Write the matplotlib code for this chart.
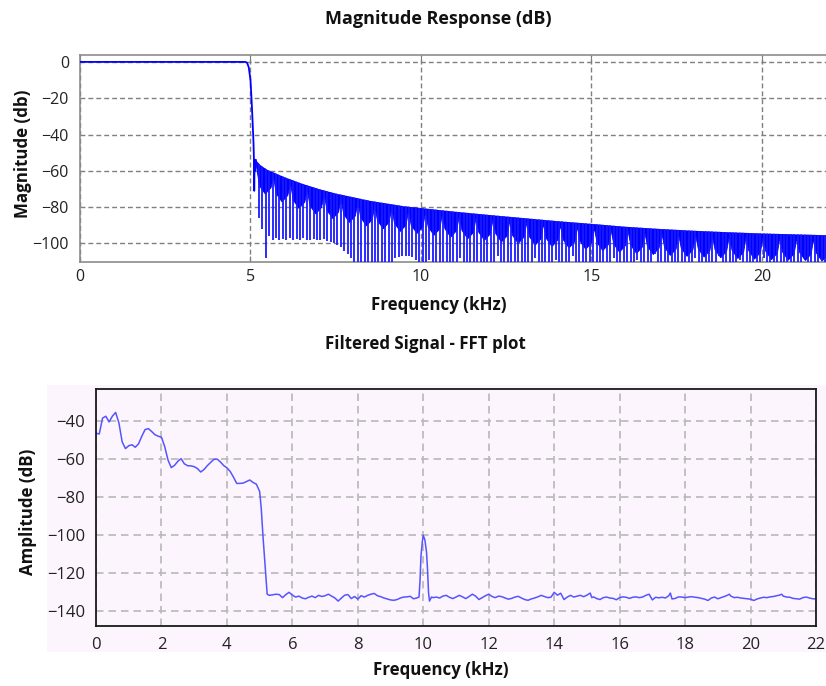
import numpy as np
import matplotlib
matplotlib.use("Agg")
import matplotlib.pyplot as plt
from matplotlib.patches import Polygon, Rectangle

plt.rcParams['font.family'] = ['Open Sans', 'DejaVu Sans']

# ---- top chart: filter magnitude response ----
pass_f = [0, 4.85, 4.9, 4.95, 5.0, 5.03, 5.06, 5.09, 5.1, 5.11, 5.12, 5.13, 5.15]
pass_db = [0, 0, -0.5, -3, -10, -20, -32, -45, -53, -71, -55, -60, -54]

# upper envelope of the stopband ripple
env_f = [5.15, 5.2, 5.3, 5.5, 6.0, 6.5, 7.0, 7.5, 8.0, 8.5, 9.0, 9.5, 10.0,
         11.0, 12.0, 13.0, 14.0, 15.0, 16.0, 17.0, 18.0, 19.0, 20.0, 21.0, 22.0]
env_db = [-53, -55, -57, -59.5, -63.5, -67, -70, -72.5, -74.5, -76.5, -78, -79.5, -80.5,
          -82.5, -84.3, -86, -87.7, -89.2, -90.8, -92, -93, -93.8, -94.5, -95, -95.5]

# lower edge of the solid ripple "cups": shoulder, centre, shoulder, gap
cup_f = [5.15,
         5.25, 5.42, 5.59, 5.66, 5.74, 5.91, 6.08, 6.16, 6.24, 6.41, 6.58, 6.65,
         6.73, 6.90, 7.07, 7.15, 7.23, 7.40, 7.57, 7.64, 7.72, 7.89, 8.06, 8.14,
         8.22, 8.39, 8.56, 8.63, 8.71, 8.88, 9.05, 9.13, 9.21, 9.38, 9.55, 9.62,
         9.70, 9.87, 10.04, 10.12, 10.20, 10.37, 10.54, 10.61, 10.69, 10.86, 11.03, 11.11,
         11.19, 11.36, 11.53, 11.60, 11.68, 11.85, 12.02, 12.10, 12.18, 12.35, 12.52, 12.59,
         12.67, 12.84, 13.01, 13.09, 13.17, 13.34, 13.51, 13.58, 13.66, 13.83, 14.00, 14.08,
         14.16, 14.33, 14.50, 14.57, 14.65, 14.82, 14.99, 15.07, 15.15, 15.32, 15.49, 15.56,
         15.64, 15.81, 15.98, 16.06, 16.14, 16.31, 16.48, 16.55, 16.63, 16.80, 16.97, 17.05,
         17.13, 17.30, 17.47, 17.54, 17.62, 17.79, 17.96, 18.04, 18.12, 18.29, 18.46, 18.53,
         18.61, 18.78, 18.95, 19.03, 19.11, 19.28, 19.45, 19.52, 19.60, 19.77, 19.94, 20.02,
         20.10, 20.27, 20.44, 20.51, 20.59, 20.76, 20.93, 21.01, 21.09, 21.26, 21.43, 21.50,
         21.58, 21.75, 21.92, 22.0]
cup_db = [-56,
          -68, -72.5, -69, -62.7, -72.3, -76.8, -73.3, -66.6, -75.9, -80.4, -76.9, -70,
          -78.9, -83.4, -79.9, -72.8, -81.5, -86, -82.5, -75, -83.6, -88.1, -84.6, -77,
          -85.5, -90, -86.5, -79, -87.1, -91.6, -88.1, -80.4, -88.6, -93.1, -89.6, -81.8,
          -89.7, -94.2, -90.7, -82.8, -90.7, -95.2, -91.7, -83.7, -91.7, -96.2, -92.7, -84.7,
          -92.6, -97.1, -93.6, -85.6, -93.5, -98, -94.5, -86.5, -94.4, -98.9, -95.4, -87.3,
          -95.2, -99.7, -96.2, -88.2, -96.1, -100.6, -97.1, -89, -96.9, -101.4, -97.9, -89.8,
          -97.7, -102.2, -98.7, -90.6, -98.4, -102.9, -99.4, -91.3, -99.2, -103.7, -100.2, -92.1,
          -100, -104.5, -101, -92.9, -100.7, -105.2, -101.7, -93.5, -101.3, -105.8, -102.3, -94,
          -101.8, -106.3, -102.8, -94.5, -102.3, -106.8, -103.3, -95, -102.7, -107.2, -103.7, -95.4,
          -103.1, -107.6, -104.1, -95.8, -103.5, -108, -104.5, -96.2, -103.8, -108.3, -104.8, -96.5,
          -104.1, -108.6, -105.1, -96.8, -104.4, -108.9, -105.4, -97, -104.6, -109.1, -105.6, -97.3,
          -104.9, -109.4, -105.9, -97.5]

# deep nulls, one per bin from 5.25 kHz in 0.1 kHz steps
null_f = np.round(np.arange(5.25, 22.0, 0.1), 2)
null_db = [-86, -92, -108, -96, -98, -97, -98, -97.5,
           -98, -97, -98, -97.5, -98, -97, -98, -98, -97.5, -98,
           -98, -97.5, -98.5, -99, -100, -101, -102, -104, -106, -108,
           -112, -112, -112, -112, -112, -112, -112, -112, -112, -112,
           -112, -110, -108, -107.5, -107, -106.8, -107, -107.5, -109, -112,
           -112, -112, -109, -112, -112, -112, -110, -112, -112, -112,
           -112, -108, -112, -112, -112, -112, -111, -112, -112, -112,
           -112, -112, -107, -112, -112, -112, -112, -110, -112, -112,
           -112, -112, -112, -108, -112, -112, -112, -112, -112, -109,
           -112, -112, -112, -112, -107, -112, -112, -112, -112, -112,
           -110, -112, -112, -112, -112, -112, -108, -112, -112, -112,
           -112, -112, -112, -109, -112, -112, -112, -112, -106, -112,
           -112, -112, -112, -112, -112, -110, -112, -112, -112, -112,
           -108, -112, -112, -112, -112, -112, -112, -107, -112, -112,
           -112, -112, -112, -109, -112, -112, -112, -112, -112, -112,
           -108, -112, -112, -112, -112, -110, -112, -112, -112, -112,
           -112, -112, -108, -112, -112, -112, -112, -109, -112, -112]

# ---- bottom chart: FFT of the filtered signal ----
fft_f = [0.0, 0.1, 0.2, 0.3, 0.4, 0.5, 0.6, 0.7, 0.8, 0.9,
         1.0, 1.1, 1.2, 1.3, 1.4, 1.5, 1.6, 1.7, 1.8, 1.9,
         2.0, 2.1, 2.2, 2.3, 2.4, 2.5, 2.6, 2.7, 2.8, 2.9,
         3.0, 3.1, 3.2, 3.3, 3.4, 3.5, 3.6, 3.7, 3.8, 3.9,
         4.0, 4.1, 4.2, 4.3, 4.4, 4.5, 4.6, 4.7, 4.8, 4.9,
         5.0, 5.05, 5.1, 5.15, 5.2, 5.23, 5.3, 5.4, 5.5, 5.6, 5.7, 5.8, 5.9,
         6.0, 6.1, 6.2, 6.3, 6.4, 6.5, 6.6, 6.7, 6.8, 6.9,
         7.0, 7.1, 7.2, 7.3, 7.4, 7.5, 7.6, 7.7, 7.8, 7.9,
         8.0, 8.1, 8.2, 8.3, 8.4, 8.5, 8.6, 8.7, 8.8, 8.9,
         9.0, 9.1, 9.2, 9.3, 9.4, 9.5, 9.6, 9.7, 9.8, 9.87,
         9.9, 9.93, 9.97, 10.0, 10.05, 10.1, 10.13, 10.16, 10.19, 10.25,
         10.3, 10.4, 10.5, 10.6, 10.7, 10.8, 10.9,
         11.0, 11.1, 11.2, 11.3, 11.4, 11.5, 11.6, 11.7, 11.8, 11.9,
         12.0, 12.1, 12.2, 12.3, 12.4, 12.5, 12.6, 12.7, 12.8, 12.9,
         13.0, 13.1, 13.2, 13.3, 13.4, 13.5, 13.6, 13.7, 13.8, 13.9,
         14.0, 14.1, 14.2, 14.3, 14.4, 14.5, 14.6, 14.7, 14.8, 14.9,
         15.0, 15.1, 15.15, 15.2, 15.3, 15.4, 15.5, 15.6, 15.7, 15.8, 15.9,
         16.0, 16.1, 16.2, 16.3, 16.4, 16.5, 16.6, 16.7, 16.8, 16.9,
         17.0, 17.1, 17.2, 17.3, 17.4, 17.5, 17.55, 17.6, 17.7, 17.8, 17.9,
         18.0, 18.1, 18.2, 18.3, 18.4, 18.5, 18.6, 18.7, 18.8, 18.9,
         19.0, 19.1, 19.2, 19.3, 19.35, 19.4, 19.5, 19.6, 19.7, 19.8, 19.9,
         20.0, 20.1, 20.2, 20.3, 20.4, 20.5, 20.6, 20.7, 20.8, 20.9, 20.95,
         21.0, 21.1, 21.2, 21.3, 21.4, 21.5, 21.6, 21.7, 21.8, 21.9, 22.0]
fft_db = [-46.5, -46.8, -38.5, -37.5, -40.5, -37.5, -35.5, -41, -51, -54.5,
          -53, -52.5, -53.8, -52, -48, -44.5, -44, -45.5, -47.2, -48,
          -48.5, -53.5, -60.5, -64.5, -63.3, -61.2, -59.8, -62.5, -63.5, -63.6,
          -64, -65, -66.8, -65.5, -63.5, -61.8, -60.2, -60, -61.5, -63.4,
          -64.6, -66.5, -69.5, -72.8, -72.8, -72.6, -71.8, -71, -72.3, -73.2,
          -77, -86, -100, -112, -124, -131, -131.6, -131.3, -131, -131.2, -132.8, -131.2, -130,
          -131.5, -132.5, -132, -133, -133.4, -132.6, -132, -132.8, -131.6, -132.2,
          -131.8, -131, -132, -133, -134.6, -133, -131.5, -131.2, -133.3, -132.2,
          -133.6, -131.8, -132.5, -131.6, -131, -130.6, -131.8, -132.3, -133, -133.5,
          -134, -134.2, -133.8, -133, -132.5, -132.4, -132.1, -133.4, -133, -132.5,
          -124, -111, -103.5, -100, -102.6, -109, -118, -130, -134.6, -132.5,
          -132.8, -132.5, -133, -132, -131.6, -132.6, -133.3,
          -132.5, -131.6, -132.4, -133.3, -132.2, -131, -132, -133.8, -132.8, -131.8,
          -131, -132.2, -132.8, -132, -132.3, -133, -133.6, -133.2, -132.5, -132.1,
          -133, -133.8, -134.2, -133.5, -133, -132.4, -131.6, -132.2, -132.8, -132.6,
          -130, -131.5, -130.5, -133.8, -132.5, -131.6, -132.5, -132, -131.6, -132.3,
          -131.5, -130.4, -132.8, -132.4, -133.3, -133.8, -132.8, -132.5, -133, -133.2, -133.9,
          -132.8, -132.4, -132.6, -133.2, -132.6, -132.4, -132.8, -132.5, -131.6, -131,
          -134, -132.6, -132.9, -132.6, -133, -131.8, -130.4, -133.5, -133.2, -132.4, -132.5,
          -132.8, -132.5, -132.3, -132.6, -132.8, -133.2, -133.6, -134.3, -133, -132.5,
          -133.4, -132.8, -132.2, -131.5, -131, -132, -132.8, -132.6, -133, -133.2, -133.4,
          -133.6, -134.3, -133.5, -133, -132.6, -132.8, -132.4, -132.2, -131.8, -131.4, -131,
          -132, -132.5, -132.6, -133.2, -133.4, -133.6, -132.8, -132.5, -133, -133.4, -133.5]

W, H = 826, 686
fig = plt.figure(figsize=(W / 100, H / 100), dpi=100)
fig.patch.set_facecolor('white')

def fx(px):
    return px / W

def fy(py):
    return 1 - py / H

# ---------- top axes ----------
ax1 = fig.add_axes([fx(80), fy(262), fx(826) - fx(80), fy(55) - fy(262)])
ax1.set_xlim(0, 21.88)
ax1.set_ylim(-110.2, 3.8)
ax1.plot(pass_f, pass_db, color='#0000ff', lw=1.3, zorder=3)

clip = Polygon(list(zip(env_f, env_db)) + [(env_f[-1], -130), (env_f[0], -130)],
               closed=True, transform=ax1.transData, facecolor='none', edgecolor='none')
ax1.add_patch(clip)
cups = ax1.fill_between(cup_f, cup_db, 5, color='#0000ff', lw=0.6, edgecolor='#0000ff', zorder=3)
cups.set_clip_path(clip)
nulls = ax1.vlines(null_f, null_db, 5, color='#1a1aff', lw=1.3, zorder=3)
nulls.set_clip_path(clip)

ax1.set_xticks([0, 5, 10, 15, 20])
ax1.set_yticks([0, -20, -40, -60, -80, -100])
ax1.grid(True, color='#7f7f7f', lw=1.0, linestyle=(0, (3.5, 2.2)))
ax1.set_axisbelow(True)
for s in ['left', 'bottom', 'top']:
    ax1.spines[s].set_color('#8c8c8c')
    ax1.spines[s].set_linewidth(1.2)
ax1.spines['right'].set_visible(False)
ax1.tick_params(axis='x', direction='in', length=4, color='#7f7f7f', top=True,
                labelsize=11.5, labelcolor='#222222', pad=5)
ax1.tick_params(axis='y', length=0, labelsize=11.5, labelcolor='#222222', pad=8)

fig.text(fx(438), fy(19), 'Magnitude Response (dB)', ha='center', va='center',
         fontsize=13, fontweight='bold', color='#111111')
fig.text(fx(439), fy(305), 'Frequency (kHz)', ha='center', va='center',
         fontsize=12.2, fontweight='bold', color='#111111')
fig.text(fx(23), fy(154), 'Magnitude (db)', ha='center', va='center', rotation=90,
         fontsize=12.2, fontweight='bold', color='#111111')

# ---------- bottom axes ----------
pink = '#fdf5fd'
fig.patches.append(Rectangle((fx(47), fy(652)), 1 - fx(47), fy(385) - fy(652),
                             transform=fig.transFigure, facecolor=pink,
                             edgecolor='none', zorder=-1))
ax2 = fig.add_axes([fx(96), fy(626), fx(816) - fx(96), fy(389) - fy(626)])
ax2.set_facecolor(pink)
ax2.set_xlim(0, 22)
ax2.set_ylim(-147.7, -23.2)
ax2.plot(fft_f, fft_db, color='#5555ff', lw=1.1)
ax2.set_xticks(range(0, 23, 2))
ax2.set_yticks([-40, -60, -80, -100, -120, -140])
ax2.grid(True, color='#b8b8b8', lw=1.2, linestyle=(0, (4.5, 3)))
ax2.set_axisbelow(True)
for s in ax2.spines.values():
    s.set_color('#1a1a1a')
    s.set_linewidth(1.3)
ax2.tick_params(length=0, labelsize=12, labelcolor='#222222', pad=8)

fig.text(fx(425), fy(344), 'Filtered Signal - FFT plot', ha='center', va='center',
         fontsize=12.2, fontweight='bold', color='#111111')
fig.text(fx(441), fy(670), 'Frequency (kHz)', ha='center', va='center',
         fontsize=12.2, fontweight='bold', color='#111111')
fig.text(fx(28), fy(512), 'Amplitude (dB)', ha='center', va='center', rotation=90,
         fontsize=12.2, fontweight='bold', color='#111111')

fig.savefig('out.png', dpi=100)
